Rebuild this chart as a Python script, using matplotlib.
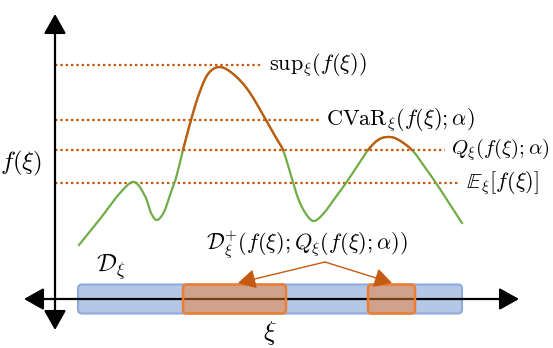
import numpy as np
import matplotlib
matplotlib.use('Agg')
import matplotlib.pyplot as plt
from matplotlib.patches import FancyBboxPatch, FancyArrowPatch

plt.rcParams['mathtext.fontset'] = 'cm'

# curve f(xi) (x = xi, y = f)
xi = [24, 45, 65, 79, 90, 96, 102, 109, 115, 121, 128, 136, 144, 153, 164, 177,
      193, 211, 220, 228, 235, 243, 251, 259, 269, 280, 291, 303, 313, 323, 332,
      342, 357, 369, 381, 394, 407]
f = [54, 80, 106, 117, 103, 86, 79, 87, 104, 121, 149, 179, 205, 225, 232, 226,
     209, 179, 163, 149, 127, 101, 85, 78, 86, 101, 116, 134, 149, 159, 162,
     160, 149, 133, 116, 96, 76]

# reference levels
levels = {'sup': 234, 'cvar': 179, 'q': 149, 'e': 116}
level_end = {'sup': 208, 'cvar': 265, 'q': 390, 'e': 405}
level_labels = {
    'sup': r'$\mathrm{sup}_{\xi}(f(\xi))$',
    'cvar': r'$\mathrm{CVaR}_{\xi}(f(\xi);\alpha)$',
    'q': r'$Q_{\xi}(f(\xi);\alpha)$',
    'e': r'$\mathbb{E}_{\xi}[f(\xi)]$',
}
label_size = {'sup': 16, 'cvar': 16, 'q': 15, 'e': 16}

# support of xi and the superquantile set
domain = (23, 407)
super_sets = [(128, 231), (313, 360)]

green = '#70ad47'
dark_orange = '#c55a11'


def smooth(px, py, n=16):
    # catmull-rom through the read points, only for drawing
    p = np.column_stack([px, py]).astype(float)
    p = np.vstack([p[0], p, p[-1]])
    out = []
    t = np.linspace(0, 1, n, endpoint=False)[:, None]
    for i in range(1, len(p) - 2):
        p0, p1, p2, p3 = p[i - 1], p[i], p[i + 1], p[i + 2]
        out.append(0.5 * (2 * p1 + (-p0 + p2) * t
                          + (2 * p0 - 5 * p1 + 4 * p2 - p3) * t ** 2
                          + (-p0 + 3 * p1 - 3 * p2 + p3) * t ** 3))
    out.append(p[-2][None, :])
    out = np.vstack(out)
    return out[:, 0], out[:, 1]


fig = plt.figure(figsize=(5.53, 3.48), dpi=100)
ax = fig.add_axes([0, 0, 1, 1])
ax.set_xlim(-55, 498)
ax.set_ylim(-49, 299)
ax.axis('off')

sx, sy = smooth(xi, f)

# curve, orange where above the quantile
ax.plot(sx, sy, color=green, lw=1.6, zorder=3)
sy_hi = np.where(sy >= levels['q'] - 0.5, sy, np.nan)
ax.plot(sx, sy_hi, color=dark_orange, lw=1.6, zorder=4)

# dotted levels + labels
for k in levels:
    ax.plot([0, level_end[k]], [levels[k], levels[k]], color=dark_orange,
            lw=1.6, linestyle=(0, (1.1, 1.3)), zorder=2)
    ax.text(level_end[k] + 6, levels[k], level_labels[k], fontsize=label_size[k],
            ha='left', va='center')

# domain box
h = 14.5
ax.add_patch(FancyBboxPatch((domain[0], -h), domain[1] - domain[0], 2 * h,
                            boxstyle='round,pad=0,rounding_size=4',
                            fc='#b4c7e7', ec='#8faadc', lw=1.5, zorder=1))

# axes with arrows
ax.add_patch(FancyArrowPatch((-31, 0), (464, 0), arrowstyle='<|-|>,head_length=8,head_width=4.5',
                             color='black', lw=1.6, shrinkA=0, shrinkB=0,
                             mutation_scale=1.5, zorder=5))
ax.add_patch(FancyArrowPatch((0, -31), (0, 285), arrowstyle='<|-|>,head_length=8,head_width=4.5',
                             color='black', lw=1.6, shrinkA=0, shrinkB=0,
                             mutation_scale=1.5, zorder=5))

# superquantile boxes
for a, b in super_sets:
    ax.add_patch(FancyBboxPatch((a, -h), b - a, 2 * h,
                                boxstyle='round,pad=0,rounding_size=4',
                                fc=(0.93, 0.49, 0.19, 0.5), ec='#ed7d31',
                                lw=1.8, zorder=6))

# arrows from label to boxes
apex = (270, 37)
for tip in [(183, 16), (337, 16)]:
    ax.add_patch(FancyArrowPatch(apex, tip, arrowstyle='-|>,head_length=9,head_width=5',
                                 color=dark_orange, lw=1.0, shrinkA=0, shrinkB=0,
                                 mutation_scale=1.2, zorder=7))

ax.text(252, 54, r'$\mathcal{D}_{\xi}^{+}(f(\xi);Q_{\xi}(f(\xi);\alpha))$',
        fontsize=16, ha='center', va='center')
ax.text(56, 32, r'$\mathcal{D}_{\xi}$', fontsize=18, ha='center', va='center')
ax.text(-34, 136, r'$f(\xi)$', fontsize=18, ha='center', va='center')
ax.text(215, -34, r'$\xi$', fontsize=19, ha='center', va='center')

fig.savefig('out.png', dpi=100)
